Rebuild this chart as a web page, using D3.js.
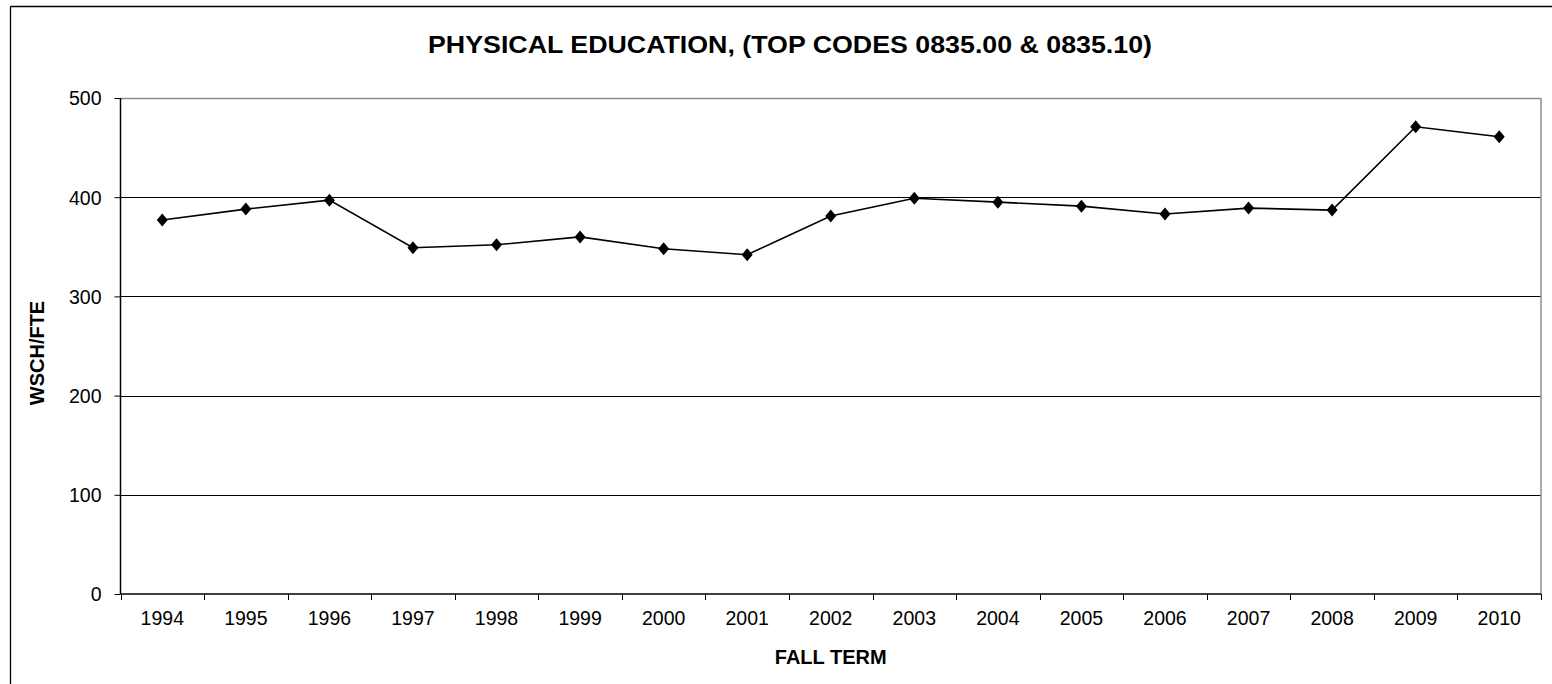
<!DOCTYPE html>
<html><head><meta charset="utf-8">
<script src="https://cdn.jsdelivr.net/npm/d3@7"></script>
<style>html,body{margin:0;padding:0;background:#fff;overflow:hidden}svg{display:block}text{font-family:"Liberation Sans",Arial,sans-serif}</style>
</head><body><svg id="c" width="1552" height="684"></svg>
<script>
const years = ["1994","1995","1996","1997","1998","1999","2000","2001","2002","2003","2004","2005","2006","2007","2008","2009","2010"];
const values = [377,388,397,349,352,360,348,342,381,399,395,391,383,389,387,471,461];
const yTicks = [0,100,200,300,400,500];
const title = "PHYSICAL EDUCATION, (TOP CODES 0835.00 & 0835.10)";
const xTitle = "FALL TERM";
const yTitle = "WSCH/FTE";

const svg = d3.select("#c");
const L = 120.5, R = 1541, T = 98, B = 594;
const FF = "Liberation Sans, Arial, sans-serif";

// outer chart frame (only top and left visible in the crop)
svg.append("line").attr("x1",10.5).attr("x2",1552).attr("y1",6.5).attr("y2",6.5).attr("stroke","#000").attr("stroke-width",1.3);
svg.append("line").attr("x1",10.5).attr("x2",10.5).attr("y1",6.5).attr("y2",684).attr("stroke","#000").attr("stroke-width",1.3);

const x = d3.scaleBand().domain(years).range([L,R]).padding(0);
const y = d3.scaleLinear().domain([0,500]).range([B,T]);

// gridlines
svg.append("g").selectAll("line").data(yTicks.filter(d=>d>0 && d<500)).join("line")
  .attr("x1",L).attr("x2",R).attr("y1",d=>Math.round(y(d))+0.5).attr("y2",d=>Math.round(y(d))+0.5)
  .attr("stroke","#000").attr("stroke-width",1);
// plot frame top/right gray
svg.append("line").attr("x1",L).attr("x2",R).attr("y1",T+0.5).attr("y2",T+0.5).attr("stroke","#8c8c8c").attr("stroke-width",1.5);
svg.append("line").attr("x1",R).attr("x2",R).attr("y1",T).attr("y2",B).attr("stroke","#8c8c8c").attr("stroke-width",1.5);

// y axis
const ya = svg.append("g").attr("transform",`translate(${L},0)`)
  .call(d3.axisLeft(y).tickValues(yTicks).tickSize(6).tickPadding(13).tickFormat(d3.format("d")));
ya.select(".domain").attr("stroke","#000").attr("stroke-width",1.5).attr("d",`M0,${T}V${B}`);
ya.selectAll(".tick line").attr("stroke","#000");
ya.selectAll(".tick text").attr("font-size",19.5).attr("fill","#000").style("font-family",FF).attr("dy","0.35em");

// x axis
const xa = svg.append("g").attr("transform",`translate(0,${B})`)
  .call(d3.axisBottom(x).tickSize(0).tickPadding(0));
xa.select(".domain").attr("stroke","#000").attr("stroke-width",1.5).attr("d",`M${L},0H${R}`);
xa.selectAll(".tick text").attr("font-size",19.5).attr("fill","#000").style("font-family",FF).attr("dy",null).attr("y",31);
const bounds = years.map(d=>x(d)).concat([R]);
svg.append("g").selectAll("line").data(bounds).join("line")
  .attr("x1",d=>Math.round(d)+0.5).attr("x2",d=>Math.round(d)+0.5).attr("y1",B).attr("y2",B+6)
  .attr("stroke","#000").attr("stroke-width",1);

// line
const cx = d=>x(d)+x.bandwidth()/2;
svg.append("path").datum(values.map((v,i)=>[cx(years[i]),y(v)]))
  .attr("d",d3.line()).attr("fill","none").attr("stroke","#000").attr("stroke-width",1.6);
svg.append("g").selectAll("path").data(values).join("path")
  .attr("transform",(d,i)=>`translate(${cx(years[i])},${y(d)})`)
  .attr("d","M0,-6.5L5.5,0L0,6.5L-5.5,0Z").attr("fill","#000");

// titles
svg.append("text").attr("x",790).attr("y",53).attr("text-anchor","middle")
  .attr("font-size",24).attr("font-weight","bold").attr("textLength",724).attr("lengthAdjust","spacingAndGlyphs").text(title);
svg.append("text").attr("x",(L+R)/2).attr("y",664).attr("text-anchor","middle")
  .attr("font-size",20).attr("font-weight","bold").text(xTitle);
svg.append("text").attr("transform",`translate(44,353) rotate(-90)`).attr("text-anchor","middle")
  .attr("font-size",20).attr("font-weight","bold").text(yTitle);
</script></body></html>
